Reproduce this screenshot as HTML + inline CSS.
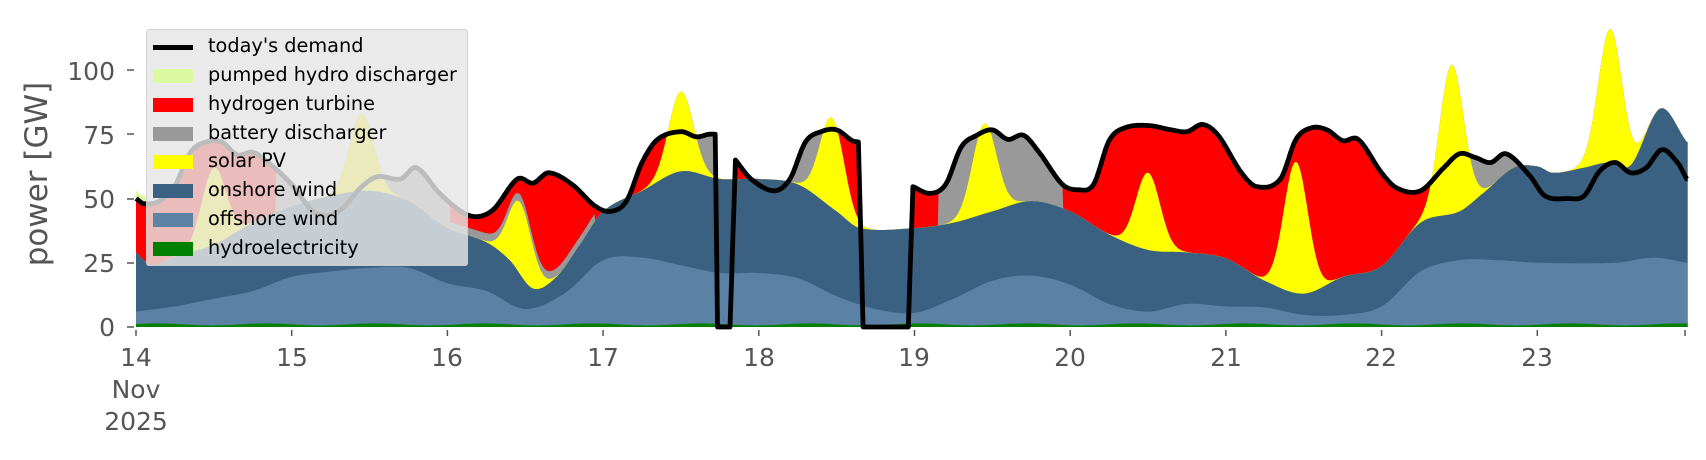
<!DOCTYPE html>
<html><head><meta charset="utf-8"><style>
body{margin:0;background:#fff;width:1706px;height:460px;overflow:hidden;font-family:"DejaVu Sans","Liberation Sans",sans-serif}
#wrap{position:relative;width:1706px;height:460px}
svg{position:absolute;left:0;top:0}
#leg{position:absolute;left:146px;top:29px;width:322px;height:237px;background:rgba(229,229,229,0.82);border:1px solid rgba(204,204,204,0.8);border-radius:3px;box-sizing:border-box}
.r{position:absolute;left:0;height:20px;font-size:19.3px;color:#000;line-height:20px}
.r i{position:absolute;left:6px;top:3px;width:40px;height:14px}
.r span{position:absolute;left:61px;top:-1px;white-space:nowrap}
</style></head><body><div id="wrap">
<svg id="s" width="1706" height="460" xmlns="http://www.w3.org/2000/svg">
<g id="areas"></g>
<path id="dem" fill="none" stroke="#000" stroke-width="4.8" stroke-linejoin="round"/>
<g fill="#555" font-size="25" font-family="DejaVu Sans, Liberation Sans, sans-serif">
<text x="115" y="336" text-anchor="end">0</text>
<text x="115" y="272" text-anchor="end">25</text>
<text x="115" y="208" text-anchor="end">50</text>
<text x="115" y="144" text-anchor="end">75</text>
<text x="115" y="80" text-anchor="end">100</text>
</g>
<g stroke="#555" stroke-width="1.5">
<line x1="127" x2="134" y1="327" y2="327"/><line x1="127" x2="134" y1="263" y2="263"/>
<line x1="127" x2="134" y1="199" y2="199"/><line x1="127" x2="134" y1="134" y2="134"/>
<line x1="127" x2="134" y1="70" y2="70"/>
</g>
<g id="xt" stroke="#555" stroke-width="1.5"></g>
<g id="xl" fill="#555" font-size="25" font-family="DejaVu Sans, Liberation Sans, sans-serif" text-anchor="middle">
<text x="136" y="366">14</text><text x="136" y="398">Nov</text><text x="136" y="430">2025</text>
<text x="292" y="366">15</text><text x="447" y="366">16</text><text x="603" y="366">17</text>
<text x="759" y="366">18</text><text x="914" y="366">19</text><text x="1070" y="366">20</text>
<text x="1226" y="366">21</text><text x="1381" y="366">22</text><text x="1537" y="366">23</text>
</g>
<text x="0" y="0" transform="translate(47,174) rotate(-90)" text-anchor="middle" fill="#555" font-size="31" font-family="DejaVu Sans, Liberation Sans, sans-serif">power [GW]</text>
</svg>
<div id="leg">
<div class="r" style="top:7px"><i style="background:none;border-top:5px solid #000;height:0;top:8px"></i><span>today's demand</span></div>
<div class="r" style="top:36px"><i style="background:#dcf8a0"></i><span>pumped hydro discharger</span></div>
<div class="r" style="top:65px"><i style="background:#ff0000"></i><span>hydrogen turbine</span></div>
<div class="r" style="top:94px"><i style="background:#999999"></i><span>battery discharger</span></div>
<div class="r" style="top:122px"><i style="background:#ffff00"></i><span>solar PV</span></div>
<div class="r" style="top:151px"><i style="background:#3b6182"></i><span>onshore wind</span></div>
<div class="r" style="top:180px"><i style="background:#5b82a5"></i><span>offshore wind</span></div>
<div class="r" style="top:209px"><i style="background:#008000"></i><span>hydroelectricity</span></div>
</div>
</div>
<script>
function X(t){return 136+(t-14)*155.7}
function Y(v){return 327-v*2.57}
function cr(p,t){var n=p.length;if(t<=p[0][0])return p[0][1];if(t>=p[n-1][0])return p[n-1][1];
 var i=1;while(p[i][0]<t)i++;var p1=p[i-1],p2=p[i],p0=p[Math.max(0,i-2)],p3=p[Math.min(n-1,i+1)];
 var h=p2[0]-p1[0],u=(t-p1[0])/h;
 var m1=(p2[1]-p0[1])/(p2[0]-p0[0]||1)*h,m2=(p3[1]-p1[1])/(p3[0]-p1[0]||1)*h;
 var u2=u*u,u3=u2*u;
 return (2*u3-3*u2+1)*p1[1]+(u3-2*u2+u)*m1+(-2*u3+3*u2)*p2[1]+(u3-u2)*m2;}
var off=[[14,6],[14.25,8],[14.5,11],[14.75,14],[15,19.5],[15.25,21.6],[15.5,23],[15.75,23],[16,17],[16.25,14],[16.5,7],[16.75,13],[17,26],[17.25,27],[17.5,24],[17.75,21],[18,21],[18.25,19],[18.5,12],[18.75,7],[19,5.5],[19.25,11],[19.5,18],[19.75,20],[20,16.5],[20.25,9],[20.5,6],[20.75,9],[21,8],[21.25,7.6],[21.5,4.7],[21.75,4.7],[22,8],[22.25,21.6],[22.5,26],[22.75,26],[23,25],[23.5,25],[23.75,27],[23.96,25]];
var on=[[14,29],[14.1,24],[14.25,27.5],[14.5,32],[14.75,40.6],[15,47],[15.25,51],[15.5,53],[15.75,49],[16,38.5],[16.25,33],[16.4,26],[16.55,15],[16.7,19.5],[16.85,32],[17,45],[17.25,53],[17.5,60.6],[17.75,57.6],[18,57.6],[18.25,55.5],[18.5,45],[18.65,38.5],[19,38.5],[19.25,40.6],[19.5,45],[19.75,49],[20,45],[20.25,36],[20.5,30],[20.75,29],[21,26.7],[21.25,18],[21.5,13],[21.75,19.5],[22,23.7],[22.25,40.6],[22.5,45],[22.65,52],[22.85,62],[23,62.5],[23.1,60],[23.3,62],[23.45,64],[23.6,63],[23.79,85],[23.96,72]];
var pk=[[14.5,30],[15.45,30],[16.47,28],[17.5,31],[18.47,35],[19.45,35],[20.5,30],[21.45,51],[22.45,58],[23.47,52]];
var A=[[14,50],[14.05,48],[14.15,49],[14.25,55],[14.35,68],[14.45,72],[14.55,72],[14.65,67],[14.75,68],[14.85,64],[15,55.5],[15.15,44.5],[15.3,45],[15.45,54.6],[15.55,58.5],[15.7,57.6],[15.8,62],[15.95,52],[16.1,44.5],[16.2,43],[16.3,46],[16.45,57.6],[16.55,56],[16.65,60],[16.8,55.5],[16.95,47],[17.05,45],[17.15,49],[17.25,64],[17.35,73],[17.5,76],[17.6,74],[17.68,75],[17.72,75]];
var B=[[17.85,65],[17.95,57.6],[18.1,53],[18.2,57.6],[18.3,72],[18.4,76],[18.5,76.7],[18.6,72.5],[18.64,72]];
var C=[[18.99,54.6],[19.1,52],[19.2,55.5],[19.3,70],[19.4,74.6],[19.5,76.7],[19.6,73],[19.7,74.6],[19.8,68],[19.95,55.5],[20.05,53.4],[20.15,55.5],[20.25,72.5],[20.35,77.5],[20.5,78.4],[20.65,76.7],[20.75,76],[20.85,78.8],[20.95,74.6],[21.1,60],[21.2,54.6],[21.35,57.6],[21.45,73],[21.55,77.5],[21.65,76.7],[21.75,72.5],[21.85,73],[22,60],[22.1,54],[22.25,53],[22.4,62],[22.5,67.4],[22.6,66],[22.7,64],[22.8,67.4],[22.95,59],[23.05,51],[23.2,50],[23.3,51],[23.4,60.6],[23.5,64],[23.6,60],[23.7,62],[23.8,69],[23.9,64],[23.96,57.6]];
function dem(t){if(t<=17.72)return cr(A,t);if(t<17.735)return 75*(17.735-t)/0.015;if(t<=17.815)return 0;if(t<17.85)return 65*(t-17.815)/0.035;
 if(t<=18.64)return cr(B,t);if(t<18.67)return 72*(18.67-t)/0.03;if(t<=18.96)return 0;if(t<18.99)return 54.6*(t-18.96)/0.03;return cr(C,t);}
var battR=[[14.9,16.02],[17.55,17.75],[18.15,18.45],[19.15,19.95],[22.55,22.9]];
function inB(t){for(var i=0;i<battR.length;i++)if(t>=battR[i][0]&&t<=battR[i][1])return true;return false;}
var T=[],L=[[],[],[],[],[],[],[]],D=[];
for(var t=14;t<=23.965;t+=0.005){
 var h=1+0.4*Math.sin(t*9);
 var o=Math.max(h+2,cr(off,t));var w=Math.max(o,cr(on,t));
 var s=0;for(var k=0;k<pk.length;k++){var z=(t-pk[k][0])/0.11;s+=pk[k][1]*Math.exp(-z*z);}
 var sv=w+s,d=dem(t);
 var b0=(t>=16.0&&t<=16.95)?3:0;
 var g=Math.max(0,d-sv-b0),b,hy;
 if(inB(t)){b=b0+g;hy=0}else{b=b0;hy=g}
 var pu=t<14.08?3:0;
 T.push(t);D.push(d);L[0].push(h);L[1].push(o);L[2].push(w);L[3].push(sv);L[4].push(sv+b);L[5].push(sv+b+hy);L[6].push(sv+b+hy+pu);
}
var cols=["#008000","#5b82a5","#3b6182","#ffff00","#999999","#ff0000","#dcf8a0"];
var g=document.getElementById("areas"),html="";
for(var li=6;li>=0;li--){
 var dd="M"+X(T[0]).toFixed(1)+","+Y(0);
 for(var i=0;i<T.length;i++)dd+="L"+X(T[i]).toFixed(1)+","+Y(L[li][i]).toFixed(1);
 dd+="L"+X(T[T.length-1]).toFixed(1)+","+Y(0)+"Z";
 html+='<path d="'+dd+'" fill="'+cols[li]+'"/>';
}
g.innerHTML=html;
var dp="";for(var i=0;i<T.length;i++)dp+=(i?"L":"M")+X(T[i]).toFixed(1)+","+Y(D[i]).toFixed(1);
document.getElementById("dem").setAttribute("d",dp);
var xt="";for(var dday=14;dday<=24;dday++){var xx=Math.min(1685,X(dday));xt+='<line x1="'+xx+'" x2="'+xx+'" y1="330" y2="336"/>';}
document.getElementById("xt").innerHTML=xt;
</script>
</body></html>
